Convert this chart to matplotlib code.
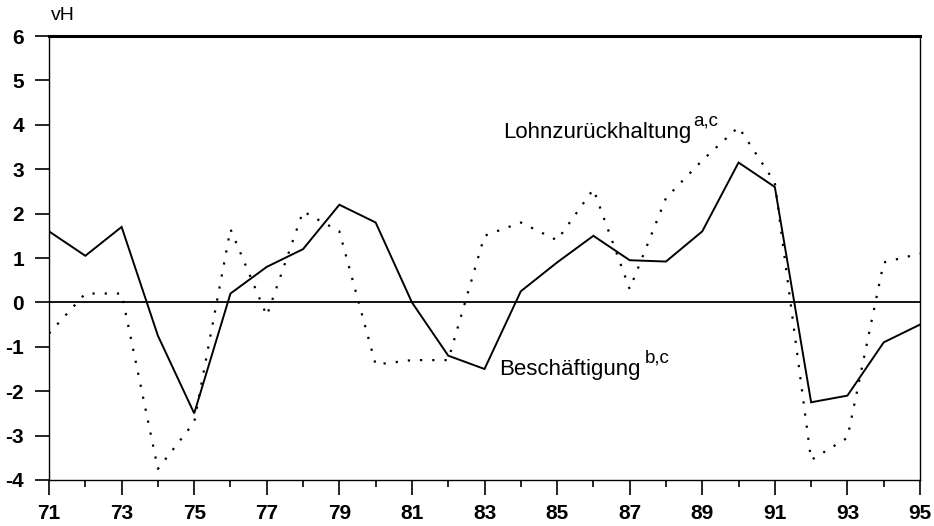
import matplotlib
matplotlib.use("Agg")
import matplotlib.pyplot as plt
from matplotlib.ticker import MultipleLocator

plt.rcParams['font.family'] = ['Liberation Sans', 'DejaVu Sans']
plt.rcParams['axes.unicode_minus'] = False

# Jahre 1971-1995 (zweistellig)
years = list(range(71, 96))

# Beschaeftigung (durchgezogen)
beschaeftigung = [1.6, 1.05, 1.7, -0.75, -2.5, 0.2, 0.8, 1.2, 2.2, 1.8,
                  0.0, -1.2, -1.5, 0.25, 0.9, 1.5, 0.95, 0.92, 1.6, 3.15,
                  2.6, -2.25, -2.1, -0.9, -0.5]

# Lohnzurueckhaltung (gepunktet)
lohn = [-0.7, 0.2, 0.2, -3.75, -2.7, 1.65, -0.3, 2.05, 1.6, -1.4,
        -1.3, -1.3, 1.5, 1.8, 1.4, 2.55, 0.3, 2.35, 3.2, 3.95,
        2.7, -3.55, -3.05, 0.9, 1.1]

xtick_labels = [str(y) for y in range(71, 96, 2)]

fig = plt.figure(figsize=(9.34, 5.26), dpi=100)
ax = fig.add_axes([0.0525, 0.0875, 0.9325, 0.844])

ax.plot(years, beschaeftigung, color='black', lw=1.4, solid_joinstyle='miter')
ax.plot(years, lohn, color='black', lw=1.6, linestyle=(0, (1, 4.5)))
ax.axhline(0, color='black', lw=1.3)

ax.set_xlim(71, 95)
ax.set_ylim(-4, 6)

ax.set_xticks(range(71, 96, 2))
ax.set_xticklabels(xtick_labels)
ax.xaxis.set_minor_locator(MultipleLocator(1))
ax.set_yticks(range(-4, 7))
ax.tick_params(axis='both', labelsize=15, direction='out', color='black')
ax.tick_params(axis='x', which='major', length=11, width=1.2, pad=6)
ax.tick_params(axis='x', which='minor', length=5, width=1.2)
ax.tick_params(axis='y', which='major', length=10, width=1.2, pad=8)
for lab in ax.get_xticklabels() + ax.get_yticklabels():
    lab.set_fontweight('bold')

for side in ['left', 'right', 'bottom']:
    ax.spines[side].set_linewidth(1.0)
ax.spines['top'].set_linewidth(2.2)

ax.text(71.05, 6.27, 'vH', fontsize=14, ha='left', va='bottom')

t1 = ax.text(83.5, 3.7, 'Lohnzurückhaltung', fontsize=16, ha='left', va='baseline')
ax.annotate('a,c', xy=(1.0, 0.0), xycoords=t1, xytext=(2, 13),
            textcoords='offset points', fontsize=13.5, ha='left', va='baseline')

t2 = ax.text(83.4, -1.64, 'Beschäftigung', fontsize=16, ha='left', va='baseline')
ax.annotate('b,c', xy=(1.0, 0.0), xycoords=t2, xytext=(3, 13),
            textcoords='offset points', fontsize=13.5, ha='left', va='baseline')

fig.savefig('out.png', dpi=100)
